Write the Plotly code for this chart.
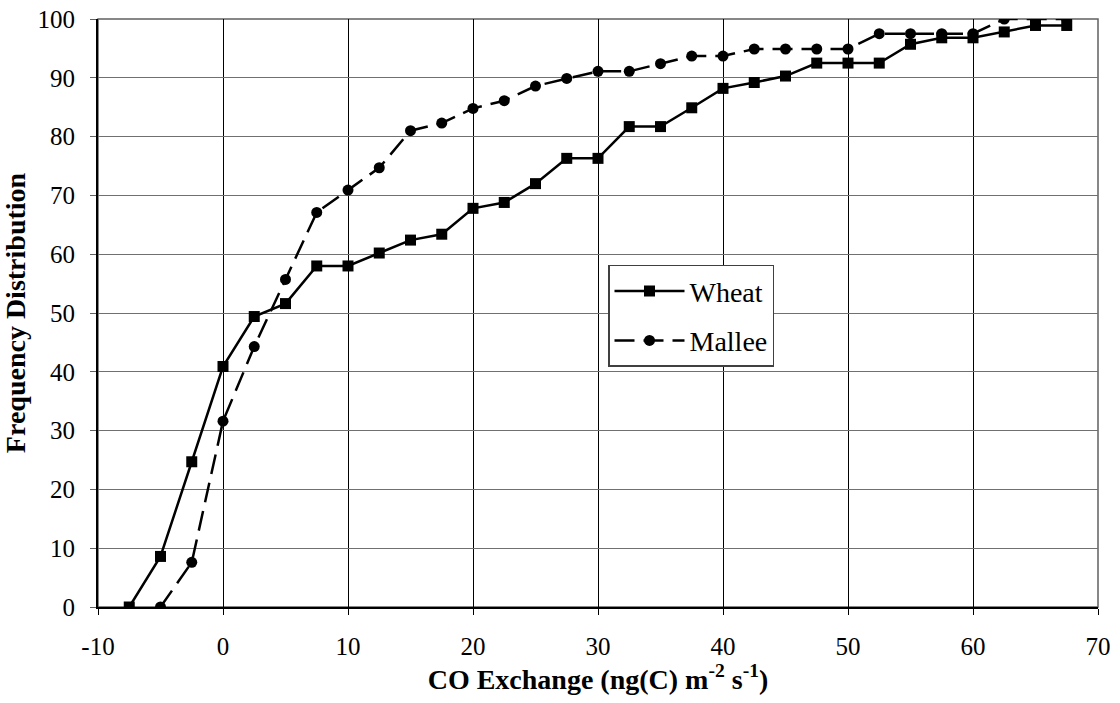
import plotly.graph_objects as go

wheat_x = [-7.5, -5, -2.5, 0, 2.5, 5, 7.5, 10, 12.5, 15, 17.5, 20, 22.5, 25, 27.5, 30,
           32.5, 35, 37.5, 40, 42.5, 45, 47.5, 50, 52.5, 55, 57.5, 60, 62.5, 65, 67.5]
wheat_y = [0, 8.6, 24.7, 40.9, 49.4, 51.6, 58.0, 58.0, 60.2, 62.4, 63.4, 67.8, 68.8, 72.0, 76.3, 76.3,
           81.7, 81.7, 84.9, 88.2, 89.2, 90.3, 92.5, 92.5, 92.5, 95.7, 96.8, 96.8, 97.8, 98.9, 98.9]

mallee_x = [-5, -2.5, 0, 2.5, 5, 7.5, 10, 12.5, 15, 17.5, 20, 22.5, 25, 27.5, 30,
            32.5, 35, 37.5, 40, 42.5, 45, 47.5, 50, 52.5, 55, 57.5, 60, 62.5, 65, 67.5]
mallee_y = [0, 7.6, 31.6, 44.3, 55.7, 67.1, 70.9, 74.7, 81.0, 82.3, 84.8, 86.1, 88.6, 89.9, 91.1,
            91.1, 92.4, 93.7, 93.7, 94.9, 94.9, 94.9, 94.9, 97.5, 97.5, 97.5, 97.5, 100, 100, 100]

x_ticks = [-10, 0, 10, 20, 30, 40, 50, 60, 70]
y_ticks = [0, 10, 20, 30, 40, 50, 60, 70, 80, 90, 100]

FONT = "Liberation Serif"

fig = go.Figure()
fig.add_trace(go.Scatter(
    x=wheat_x, y=wheat_y, name="Wheat", mode="lines+markers",
    line=dict(color="black", width=2.5),
    marker=dict(symbol="square", size=11, color="black"),
    legendgroup="w",
))
fig.add_trace(go.Scatter(
    x=mallee_x, y=mallee_y, name="Mallee", mode="lines+markers",
    line=dict(color="black", width=2.5, dash="20px,9px"),
    marker=dict(symbol="circle", size=11, color="black"),
    legendgroup="m",
))

fig.update_layout(
    width=1120, height=703,
    margin=dict(l=98, r=22, t=19, b=96, autoexpand=False),
    paper_bgcolor="white", plot_bgcolor="white",
    font=dict(family=FONT, color="black", size=25),
    showlegend=True,
    legend=dict(
        x=0.51, y=0.582, xanchor="left", yanchor="top",
        bgcolor="white", bordercolor="#404040", borderwidth=1.5,
        font=dict(family=FONT, size=28, color="black"),
        tracegroupgap=10, itemwidth=70,
        entrywidth=160, entrywidthmode="pixels",
    ),
    shapes=[dict(type="rect", xref="paper", yref="paper", x0=0, x1=1, y0=0, y1=1,
                 line=dict(color="#606060", width=1.5), layer="below")],
)

fig.update_xaxes(
    range=[-10, 70], tickvals=x_ticks, ticktext=[str(v) for v in x_ticks],
    showgrid=True, gridcolor="black", gridwidth=1, zeroline=False,
    showline=True, linecolor="black", linewidth=2, automargin=False,
    ticks="outside", ticklen=6, tickcolor="black", ticklabelstandoff=10,
    tickfont=dict(family=FONT, size=25),
    title=dict(text="<b>CO Exchange (ng(C) m<sup>-2</sup> s<sup>-1</sup>)</b>",
               font=dict(family=FONT, size=28), standoff=6),
)
fig.update_yaxes(
    range=[0, 100], tickvals=y_ticks, ticktext=[str(v) for v in y_ticks],
    showgrid=True, gridcolor="#707070", gridwidth=1.2, zeroline=False,
    showline=True, linecolor="black", linewidth=2, automargin=False,
    ticks="outside", ticklen=6, tickcolor="#606060", ticklabelstandoff=10,
    tickfont=dict(family=FONT, size=25),
    title=dict(text="<b>Frequency Distribution</b>",
               font=dict(family=FONT, size=28), standoff=8),
)

fig.write_html("out.html")
